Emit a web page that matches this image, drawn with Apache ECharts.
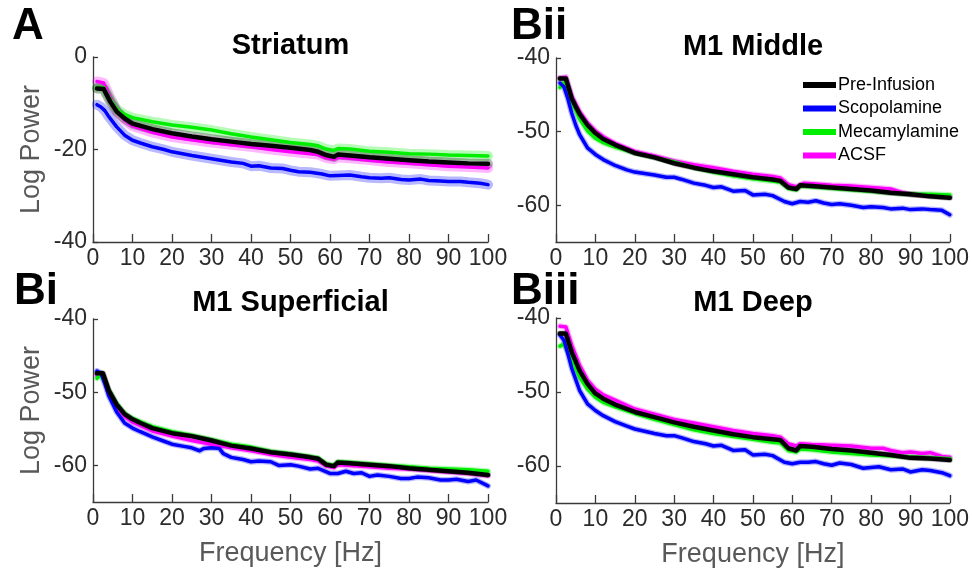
<!DOCTYPE html>
<html>
<head>
<meta charset="utf-8">
<script src="https://cdn.jsdelivr.net/npm/echarts@6/dist/echarts.min.js"></script>
<style>
  html, body { margin: 0; padding: 0; background: #fff; }
  #chart { width: 972px; height: 571px; }
</style>
</head>
<body>
<div id="chart"></div>
<script>
// Power spectra (log power vs frequency) per recording site and condition.
const conditions = ['Pre-Infusion', 'Scopolamine', 'Mecamylamine', 'ACSF'];
const condColors = { 'Pre-Infusion': '#000000', 'Scopolamine': '#0000ff', 'Mecamylamine': '#00ee00', 'ACSF': '#ff00ff' };
const freqTicks = [0, 10, 20, 30, 40, 50, 60, 70, 80, 90, 100];

// Striatum
const striatumPre = [[1,-6.8],[2.7,-6.9],[4.4,-9.7],[6,-11.8],[8,-13.3],[10,-14.4],[15,-15.6],[20,-16.5],[25,-17.2],[30,-17.8],[35,-18.3],[40,-18.8],[45,-19.2],[50,-19.6],[55,-20.1],[57,-20.5],[59,-21.2],[61,-21.6],[62,-21.1],[65,-21.3],[70,-21.7],[75,-22.0],[80,-22.3],[85,-22.6],[90,-22.8],[95,-23.0],[100,-23.1]];
const striatumScop = [[1,-10.3],[2,-10.8],[3,-11.6],[4,-12.9],[6,-15.1],[8,-16.9],[10,-18.0],[12,-18.6],[15,-19.4],[18,-20.0],[20,-20.5],[25,-21.3],[30,-22.0],[35,-22.7],[38,-23.0],[40,-23.6],[42,-23.5],[45,-24.0],[48,-24.1],[50,-24.5],[52,-24.8],[55,-24.9],[58,-25.3],[60,-25.7],[62,-25.6],[65,-25.5],[68,-25.9],[70,-26.1],[73,-26.2],[75,-26.1],[78,-26.5],[80,-26.6],[83,-26.4],[85,-26.7],[88,-26.8],[90,-26.9],[93,-26.9],[95,-27.1],[98,-27.3],[100,-27.6]];
const striatumMec = [[1,-6.6],[2.7,-6.6],[4.4,-9.2],[6,-11.3],[8,-12.4],[10,-13.1],[15,-14.0],[20,-14.7],[25,-15.2],[30,-15.8],[35,-16.6],[40,-17.3],[45,-17.9],[50,-18.5],[55,-18.9],[57,-19.2],[59,-19.9],[61,-20.2],[62,-19.8],[65,-19.9],[70,-20.4],[75,-20.6],[80,-20.9],[85,-21.0],[90,-21.2],[95,-21.3],[100,-21.4]];
const striatumAcsf = [[1,-5.3],[2.7,-5.6],[4.4,-8.8],[6,-11.6],[8,-13.6],[10,-14.9],[15,-16.3],[20,-17.3],[25,-17.9],[30,-18.5],[35,-19.0],[40,-19.4],[45,-20.0],[50,-20.5],[55,-20.9],[57,-21.1],[59,-21.8],[61,-22.1],[62,-21.7],[65,-21.9],[70,-22.3],[75,-22.7],[80,-23.0],[85,-23.3],[90,-23.6],[95,-23.8],[100,-24.0]];

// M1 middle layer
const middlePre = [[1,-42.8],[2.5,-42.8],[4,-45.5],[5,-46.6],[6,-47.6],[8,-49.1],[10,-50.2],[12,-51.0],[15,-51.8],[20,-52.9],[25,-53.5],[30,-54.3],[35,-54.9],[40,-55.4],[45,-55.8],[50,-56.2],[55,-56.5],[57,-56.7],[59,-57.6],[61,-57.8],[62,-57.3],[65,-57.4],[70,-57.6],[75,-57.8],[80,-58.0],[85,-58.3],[90,-58.5],[95,-58.8],[100,-59.0]];
const middleScop = [[1,-43.4],[2,-43.9],[3,-45.5],[4,-47.5],[5,-49.1],[6,-50.4],[8,-52.2],[10,-53.1],[12,-53.8],[15,-54.6],[18,-55.2],[20,-55.5],[25,-55.9],[28,-56.2],[30,-56.2],[32,-56.5],[35,-57.0],[38,-57.3],[40,-57.6],[42,-57.5],[45,-58.1],[48,-58.0],[50,-58.6],[53,-58.5],[55,-58.7],[58,-59.5],[60,-59.8],[62,-59.5],[64,-59.6],[66,-59.4],[68,-59.7],[70,-59.9],[72,-59.8],[75,-60.0],[78,-60.3],[80,-60.2],[83,-60.3],[85,-60.5],[88,-60.4],[90,-60.6],[93,-60.5],[95,-60.6],[98,-60.7],[100,-61.3]];
const middleMec = [[1,-44.0],[2,-43.4],[4,-45.9],[6,-48.3],[8,-49.9],[10,-50.9],[12,-51.5],[15,-52.1],[20,-52.9],[25,-53.5],[30,-54.1],[35,-54.9],[40,-55.5],[45,-56.0],[50,-56.4],[55,-56.7],[57,-56.9],[59,-57.7],[61,-57.9],[62,-57.4],[65,-57.5],[70,-57.7],[75,-57.9],[80,-58.1],[85,-58.3],[90,-58.5],[95,-58.5],[100,-58.6]];
const middleAcsf = [[1,-42.7],[2.5,-42.6],[4,-45.2],[6,-47.3],[8,-48.8],[10,-49.9],[12,-50.7],[15,-51.6],[20,-52.7],[25,-53.3],[30,-54.0],[35,-54.5],[40,-54.9],[45,-55.4],[50,-55.8],[55,-56.1],[57,-56.3],[59,-57.2],[61,-57.5],[63,-57.0],[65,-57.1],[70,-57.3],[75,-57.4],[80,-57.6],[85,-57.8],[88,-58.3],[90,-58.5],[95,-58.7],[100,-58.9]];

// M1 superficial layer
const superficialPre = [[1,-47.4],[2.5,-47.4],[4,-49.8],[6,-51.7],[8,-53.0],[10,-53.7],[12,-54.2],[15,-54.9],[20,-55.6],[25,-56.0],[30,-56.6],[35,-57.3],[40,-57.7],[45,-58.2],[50,-58.5],[55,-58.9],[57,-59.1],[59,-59.9],[61,-60.1],[62,-59.6],[65,-59.7],[70,-59.9],[75,-60.1],[80,-60.4],[85,-60.6],[90,-60.8],[95,-61.0],[100,-61.3]];
const superficialScop = [[1,-47.1],[2,-47.4],[3,-48.8],[4,-50.5],[6,-52.7],[8,-54.2],[10,-54.9],[12,-55.4],[15,-56.1],[18,-56.7],[20,-57.1],[23,-57.4],[25,-57.6],[27,-58.0],[28,-57.7],[30,-57.6],[32,-57.7],[33,-58.4],[35,-58.9],[38,-59.2],[40,-59.5],[42,-59.4],[45,-59.5],[47,-60.0],[50,-59.9],[52,-60.1],[55,-60.5],[57,-60.4],[60,-61.1],[62,-61.1],[64,-60.8],[66,-61.1],[68,-61.0],[70,-61.5],[72,-61.3],[75,-61.5],[78,-61.8],[80,-61.8],[82,-61.6],[85,-61.7],[88,-62.0],[90,-62.0],[92,-61.9],[95,-62.2],[97,-62.0],[100,-62.8]];
const superficialMec = [[1,-48.1],[2,-47.5],[4,-49.7],[6,-51.6],[8,-52.9],[10,-53.6],[15,-54.7],[20,-55.4],[25,-55.9],[30,-56.5],[35,-57.1],[40,-57.5],[45,-58.1],[50,-58.4],[55,-58.8],[57,-59.0],[59,-59.8],[61,-60.0],[62,-59.5],[65,-59.6],[70,-59.8],[75,-60.0],[80,-60.2],[85,-60.4],[90,-60.5],[95,-60.6],[100,-60.8]];
const superficialAcsf = [[1,-47.7],[2.5,-47.6],[4,-50.0],[6,-52.0],[8,-53.3],[10,-54.1],[15,-55.3],[20,-56.0],[25,-56.6],[30,-57.1],[35,-57.6],[40,-58.0],[45,-58.5],[50,-58.9],[55,-59.2],[57,-59.4],[59,-60.1],[61,-60.3],[62,-59.9],[65,-60.0],[70,-60.2],[75,-60.4],[80,-60.5],[85,-60.7],[90,-60.9],[95,-61.1],[100,-61.4]];

// M1 deep layer
const deepPre = [[1,-42.1],[2.5,-42.1],[4,-44.6],[6,-47.1],[8,-48.9],[10,-50.2],[12,-50.9],[15,-51.7],[20,-52.7],[25,-53.4],[30,-54.1],[35,-54.7],[40,-55.2],[45,-55.7],[50,-56.1],[55,-56.4],[57,-56.5],[59,-57.6],[61,-57.9],[62,-57.3],[65,-57.4],[70,-57.7],[75,-57.9],[80,-58.2],[85,-58.5],[90,-58.9],[95,-59.0],[100,-59.2]];
const deepScop = [[1,-42.3],[2,-43.0],[3,-44.8],[4,-46.8],[6,-49.8],[8,-51.6],[10,-52.5],[12,-53.2],[15,-54.0],[18,-54.6],[20,-55.0],[25,-55.6],[28,-55.9],[30,-55.9],[32,-56.2],[35,-56.7],[38,-57.0],[40,-57.3],[42,-57.2],[45,-57.9],[48,-57.8],[50,-58.5],[53,-58.4],[55,-58.6],[58,-59.5],[60,-59.7],[62,-59.5],[64,-59.5],[66,-59.4],[68,-59.7],[70,-59.9],[72,-59.6],[75,-59.8],[78,-60.3],[80,-60.2],[82,-60.1],[85,-60.5],[88,-60.4],[90,-60.8],[93,-60.5],[95,-60.6],[98,-60.9],[100,-61.3]];
const deepMec = [[1,-43.8],[2,-43.5],[4,-45.5],[6,-48.0],[8,-49.6],[10,-50.7],[12,-51.4],[15,-52.0],[20,-52.9],[25,-53.7],[30,-54.4],[35,-55.1],[40,-55.6],[45,-56.0],[50,-56.4],[55,-56.8],[57,-56.9],[59,-57.9],[61,-58.1],[62,-57.7],[65,-57.8],[70,-58.1],[75,-58.3],[80,-58.5],[85,-58.6],[90,-58.8],[95,-58.9],[100,-59.0]];
const deepAcsf = [[1,-41.1],[2.5,-41.2],[4,-43.7],[6,-46.4],[8,-48.4],[10,-49.6],[12,-50.4],[15,-51.1],[20,-52.3],[25,-53.0],[30,-53.7],[35,-54.2],[40,-54.7],[45,-55.2],[50,-55.6],[55,-55.9],[57,-56.1],[59,-57.0],[61,-57.3],[62,-57.0],[65,-57.1],[70,-57.2],[75,-57.3],[80,-57.6],[83,-57.6],[85,-57.9],[88,-58.2],[90,-58.1],[93,-58.3],[95,-58.2],[98,-58.7],[100,-58.8]];

const stratTicks = [-40, -20, 0];
const m1Ticks = [-60, -50, -40];

const FONT = '"Liberation Sans", Arial, sans-serif';
const AXIS_COLOR = '#3a3a3a';
const LABEL_COLOR = '#2b2b2b';
const NAME_COLOR = '#595959';

// panel layout: grid rectangles, titles, letters
const panels = [
  { grid: { left: 93, top: 57, width: 395, height: 185 }, title: 'Striatum', letter: 'A', letterX: 12, letterY: 27,
    yMin: -40, yMax: 0, yTicks: stratTicks, yName: 'Log Power', xName: '',
    data: { 'Pre-Infusion': striatumPre, 'Scopolamine': striatumScop, 'Mecamylamine': striatumMec, 'ACSF': striatumAcsf }, spread: 10 },
  { grid: { left: 556, top: 58, width: 394, height: 184 }, title: 'M1 Middle', letter: 'Bii', letterX: 511, letterY: 27,
    yMin: -65, yMax: -40, yTicks: m1Ticks, yName: '', xName: '',
    data: { 'Pre-Infusion': middlePre, 'Scopolamine': middleScop, 'Mecamylamine': middleMec, 'ACSF': middleAcsf }, spread: 6 },
  { grid: { left: 93, top: 319, width: 395, height: 183 }, title: 'M1 Superficial', letter: 'Bi', letterX: 14, letterY: 292,
    yMin: -65, yMax: -40, yTicks: m1Ticks, yName: 'Log Power', xName: 'Frequency [Hz]',
    data: { 'Pre-Infusion': superficialPre, 'Scopolamine': superficialScop, 'Mecamylamine': superficialMec, 'ACSF': superficialAcsf }, spread: 6 },
  { grid: { left: 556, top: 318, width: 394, height: 185 }, title: 'M1 Deep', letter: 'Biii', letterX: 511, letterY: 292,
    yMin: -65, yMax: -40, yTicks: m1Ticks, yName: '', xName: 'Frequency [Hz]',
    data: { 'Pre-Infusion': deepPre, 'Scopolamine': deepScop, 'Mecamylamine': deepMec, 'ACSF': deepAcsf }, spread: 6 }
];

const titleY = [46, 47, 303, 303];

// draw order: the baseline condition is drawn last so it sits on top
const drawOrder = ['ACSF', 'Mecamylamine', 'Scopolamine', 'Pre-Infusion'];

const grids = [], xAxes = [], yAxes = [], series = [], graphics = [];

panels.forEach((p, i) => {
  grids.push(p.grid);
  xAxes.push({
    type: 'value', gridIndex: i, min: 0, max: 100,
    name: p.xName, nameLocation: 'middle', nameGap: 38,
    nameTextStyle: { fontFamily: FONT, fontSize: 27, color: NAME_COLOR },
    axisLine: { onZero: false, lineStyle: { color: AXIS_COLOR, width: 1.3 } },
    axisTick: { inside: true, length: 8, lineStyle: { color: AXIS_COLOR, width: 1.3 }, customValues: freqTicks },
    axisLabel: { fontFamily: FONT, fontSize: 23, color: LABEL_COLOR, margin: 5, customValues: freqTicks },
    splitLine: { show: false }
  });
  yAxes.push({
    type: 'value', gridIndex: i, min: p.yMin, max: p.yMax,
    name: p.yName, nameLocation: 'middle', nameGap: 48,
    nameTextStyle: { fontFamily: FONT, fontSize: 27, color: NAME_COLOR },
    axisLine: { show: true, onZero: false, lineStyle: { color: AXIS_COLOR, width: 1.3 } },
    axisTick: { show: true, inside: true, length: 5, lineStyle: { color: AXIS_COLOR, width: 1.3 }, customValues: p.yTicks },
    axisLabel: { fontFamily: FONT, fontSize: 23, color: LABEL_COLOR, margin: 6, customValues: p.yTicks },
    splitLine: { show: false }
  });
  drawOrder.forEach(name => {
    const c = condColors[name];
    const pts = p.data[name];
    // translucent spread band drawn under each mean curve
    series.push({
      type: 'line', name: name + ' band', xAxisIndex: i, yAxisIndex: i, data: pts,
      showSymbol: false, symbol: 'none', silent: true, z: 2,
      lineStyle: { color: c, width: p.spread, opacity: 0.28, cap: 'round', join: 'round' },
      itemStyle: { color: c }
    });
    series.push({
      type: 'line', name: name, xAxisIndex: i, yAxisIndex: i, data: pts,
      showSymbol: false, symbol: 'none', z: 3,
      lineStyle: { color: c, width: name === 'Pre-Infusion' ? 4.5 : 3.5, cap: 'round', join: 'round' },
      itemStyle: { color: c }
    });
  });
  graphics.push({
    type: 'text', x: p.grid.left + p.grid.width / 2, y: titleY[i],
    style: { text: p.title, font: 'bold 29px ' + FONT, fill: '#000', textAlign: 'center', textVerticalAlign: 'middle' }
  });
  graphics.push({
    type: 'text', x: p.letterX, y: p.letterY,
    style: { text: p.letter, font: 'bold 44px ' + FONT, fill: '#000', textAlign: 'left', textVerticalAlign: 'middle' }
  });
});

const chart = echarts.init(document.getElementById('chart'), null, { renderer: 'canvas' });
chart.setOption({
  animation: false,
  backgroundColor: '#ffffff',
  grid: grids,
  xAxis: xAxes,
  yAxis: yAxes,
  legend: {
    data: conditions,
    orient: 'vertical',
    left: 798, top: 71,
    icon: 'rect', itemWidth: 33, itemHeight: 6, itemGap: 5.5,
    textStyle: { fontFamily: FONT, fontSize: 18, color: '#000', lineHeight: 18, padding: [0, 0, 0, -3] },
    selectedMode: false
  },
  graphic: graphics,
  series: series
});
</script>
</body>
</html>
